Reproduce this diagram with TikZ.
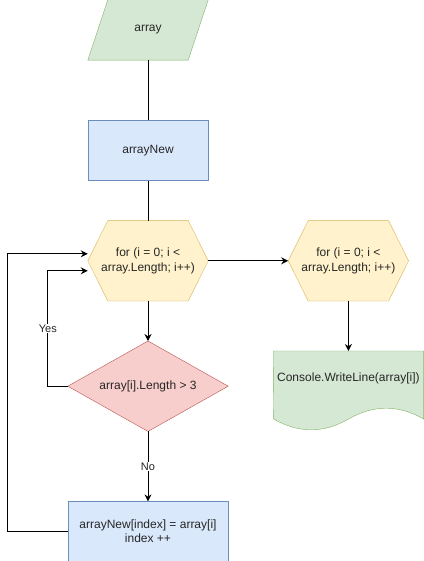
\documentclass[tikz,border=0pt]{standalone}
\usepackage{fontspec}
\setmainfont{Liberation Sans}
\usetikzlibrary{positioning,arrows.meta,backgrounds}
\definecolor{greenfill}{HTML}{D5E8D4}
\definecolor{greenline}{HTML}{82B366}
\definecolor{bluefill}{HTML}{DAE8FC}
\definecolor{blueline}{HTML}{6C8EBF}
\definecolor{yellowfill}{HTML}{FFF2CC}
\definecolor{yellowline}{HTML}{D6B656}
\definecolor{redfill}{HTML}{F8CECC}
\definecolor{redline}{HTML}{B85450}

\begin{document}
\begin{tikzpicture}[
    x=1pt,y=-1pt,
    every node/.style={font=\fontsize{12}{15}\selectfont,text=black!85,align=center,inner sep=0pt},
    inbox/.style={minimum width=120pt,minimum height=60pt},
    procbox/.style={rectangle,draw=blueline,fill=bluefill,minimum width=120pt,minimum height=60pt},
    loopbox/.style={minimum width=120pt,minimum height=80pt},
    condbox/.style={minimum width=160pt,minimum height=90pt},
    docbox/.style={minimum width=150pt,minimum height=54pt},
    inshape/.style={draw=greenline,fill=greenfill},
    loopshape/.style={draw=yellowline,fill=yellowfill},
    condshape/.style={draw=redline,fill=redfill},
    docshape/.style={draw=greenline,fill=greenfill},
    edgelabel/.style={font=\fontsize{11}{13}\selectfont,fill=white,inner sep=1pt},
    flow/.style={draw,line width=1pt,-{Stealth[length=7pt,width=7pt]}},
    plain/.style={draw,line width=1pt}
]
\useasboundingbox (0,0) rectangle (423,561);

\node[inbox] (input) at (148,30) {array};
\node[procbox,below=60pt of input] (arrnew) {arrayNew};
\node[loopbox,below=40pt of arrnew] (loop) {for (i = 0; i \textless\\array.Length; i++)};
\node[loopbox,right=80pt of loop] (printloop) {for (i = 0; i \textless\\array.Length; i++)};
\node[condbox,below=40pt of loop] (cond) {array[i].Length \textgreater{} 3};
\node[procbox,minimum width=160pt,below=70pt of cond] (body) {arrayNew[index] = array[i]\\[-1pt]index ++};
\node[docbox,below=50pt of printloop] (doc) {Console.WriteLine(array[i])};

% outlines of the non-rectangular shapes
\begin{pgfonlayer}{background}
\draw[inshape] ([xshift=20pt]input.north west) -- (input.north east)
    -- ([xshift=-20pt]input.south east) -- (input.south west) -- cycle;
\foreach \n in {loop,printloop}
    \draw[loopshape] (\n.west) -- ([xshift=20pt]\n.north west) -- ([xshift=-20pt]\n.north east)
        -- (\n.east) -- ([xshift=-20pt]\n.south east) -- ([xshift=20pt]\n.south west) -- cycle;
\draw[condshape] (cond.north) -- (cond.east) -- (cond.south) -- (cond.west) -- cycle;
\draw[docshape] (doc.north west) -- (doc.north east) -- ([yshift=-68pt]doc.north east)
    .. controls +(-25,-14.4) and +(25,-14.4) .. ++(-75,0)
    .. controls +(-25,14.4) and +(25,14.4) .. ++(-75,0) -- cycle;
\end{pgfonlayer}

\draw[plain] (input) -- (arrnew);
\draw[plain] (arrnew) -- (loop);
\draw[flow] (loop) -- (printloop);
\draw[flow] (printloop) -- (doc);
\draw[flow] (loop) -- (cond);
\draw[flow] (cond.west) -- ++(-20,0) |- node[edgelabel,pos=0.25] {Yes} ([yshift=-10pt]loop.west);
\draw[flow] (cond) -- node[edgelabel] {No} (body);
\draw[flow] (body.west) -- ++(-60,0) |- ([yshift=7pt]loop.west);
\end{tikzpicture}
\end{document}
